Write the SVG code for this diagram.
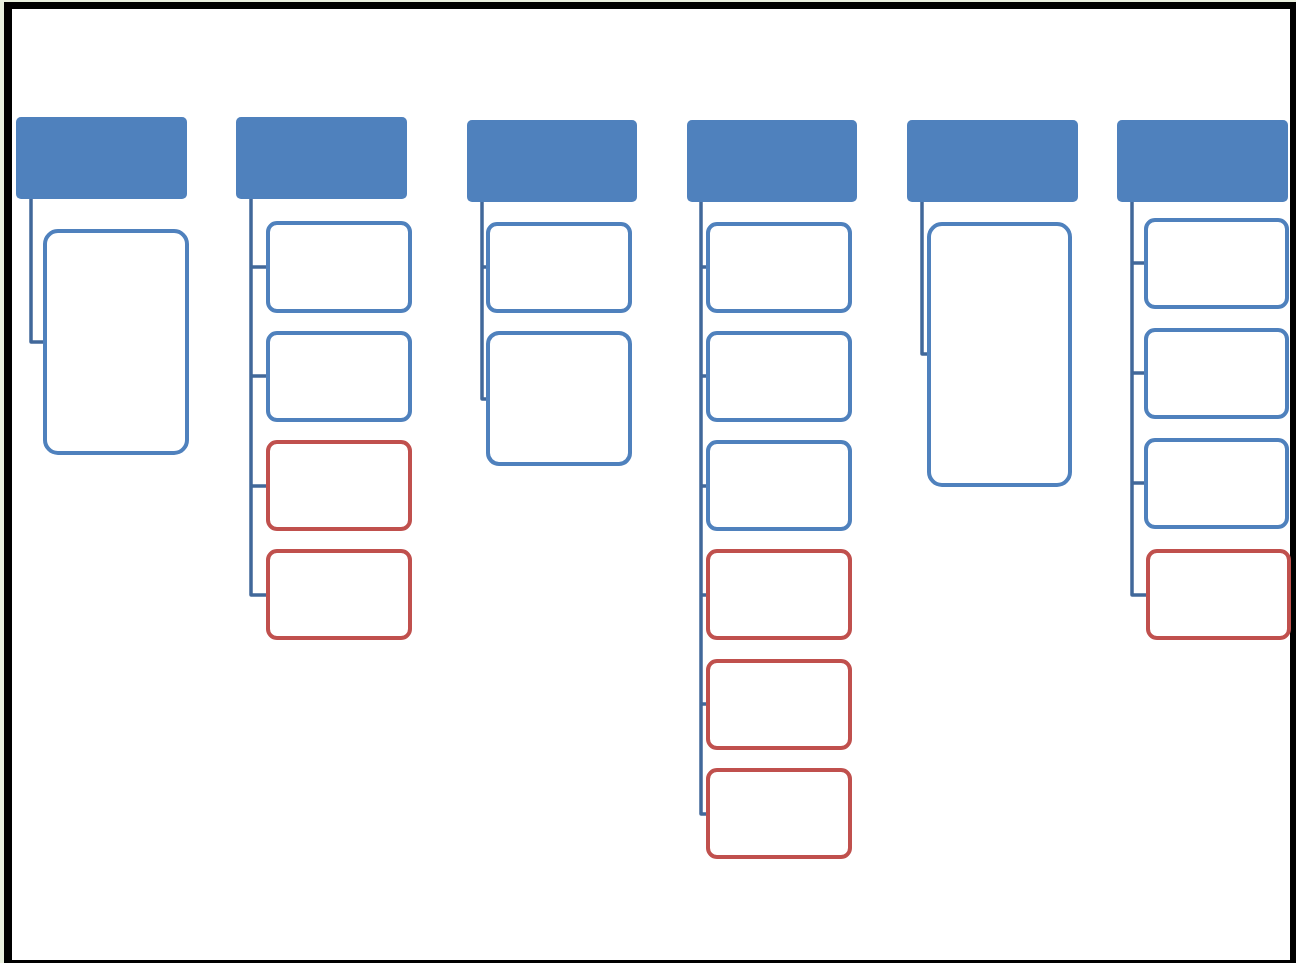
<svg xmlns="http://www.w3.org/2000/svg" width="1296" height="963" viewBox="0 0 1296 963">
<style>
.hdr{fill:#4f81bd;}
.box{fill:#ffffff;stroke:#4f81bd;stroke-width:4;}
.red{fill:#ffffff;stroke:#c0504d;stroke-width:4;}
.con{fill:none;stroke:#41689a;stroke-width:3.5;stroke-linejoin:round;}
</style>
<rect x="0" y="0" width="1296" height="963" fill="#e9f0de"/>
<rect x="4" y="2" width="1292" height="961" fill="#000000"/>
<rect x="12" y="9" width="1278" height="951" fill="#ffffff"/>
<g id="connectors">
<path class="con" d="M31,199 V342 H45"/>
<path class="con" d="M251,199 V595 H268 M251,267 H268 M251,376 H268 M251,486 H268"/>
<path class="con" d="M482,202 V399 H488 M482,267 H488"/>
<path class="con" d="M701,202 V814 H708 M701,267 H708 M701,376 H708 M701,486 H708 M701,595 H708 M701,704 H708"/>
<path class="con" d="M922,202 V354 H929"/>
<path class="con" d="M1132,202 V595 H1148 M1132,263 H1146 M1132,373 H1146 M1132,483 H1146"/>
</g>
<g id="col1">
<rect class="hdr" x="16" y="117" width="171" height="82" rx="5"/>
<rect class="box" x="45" y="231" width="142" height="222" rx="13"/>
</g>
<g id="col2">
<rect class="hdr" x="236" y="117" width="171" height="82" rx="5"/>
<rect class="box" x="268" y="223" width="142" height="88" rx="9"/>
<rect class="box" x="268" y="333" width="142" height="87" rx="9"/>
<rect class="red" x="268" y="442" width="142" height="87" rx="9"/>
<rect class="red" x="268" y="551" width="142" height="87" rx="9"/>
</g>
<g id="col3">
<rect class="hdr" x="467" y="120" width="170" height="82" rx="5"/>
<rect class="box" x="488" y="224" width="142" height="87" rx="9"/>
<rect class="box" x="488" y="333" width="142" height="131" rx="11"/>
</g>
<g id="col4">
<rect class="hdr" x="687" y="120" width="170" height="82" rx="5"/>
<rect class="box" x="708" y="224" width="142" height="87" rx="9"/>
<rect class="box" x="708" y="333" width="142" height="87" rx="9"/>
<rect class="box" x="708" y="442" width="142" height="87" rx="9"/>
<rect class="red" x="708" y="551" width="142" height="87" rx="9"/>
<rect class="red" x="708" y="661" width="142" height="87" rx="9"/>
<rect class="red" x="708" y="770" width="142" height="87" rx="9"/>
</g>
<g id="col5">
<rect class="hdr" x="907" y="120" width="171" height="82" rx="5"/>
<rect class="box" x="929" y="224" width="141" height="261" rx="13"/>
</g>
<g id="col6">
<rect class="hdr" x="1117" y="120" width="171" height="82" rx="5"/>
<rect class="box" x="1146" y="220" width="141" height="87" rx="9"/>
<rect class="box" x="1146" y="330" width="141" height="87" rx="9"/>
<rect class="box" x="1146" y="440" width="141" height="87" rx="9"/>
<rect class="red" x="1148" y="551" width="141" height="87" rx="9"/>
</g>
</svg>
